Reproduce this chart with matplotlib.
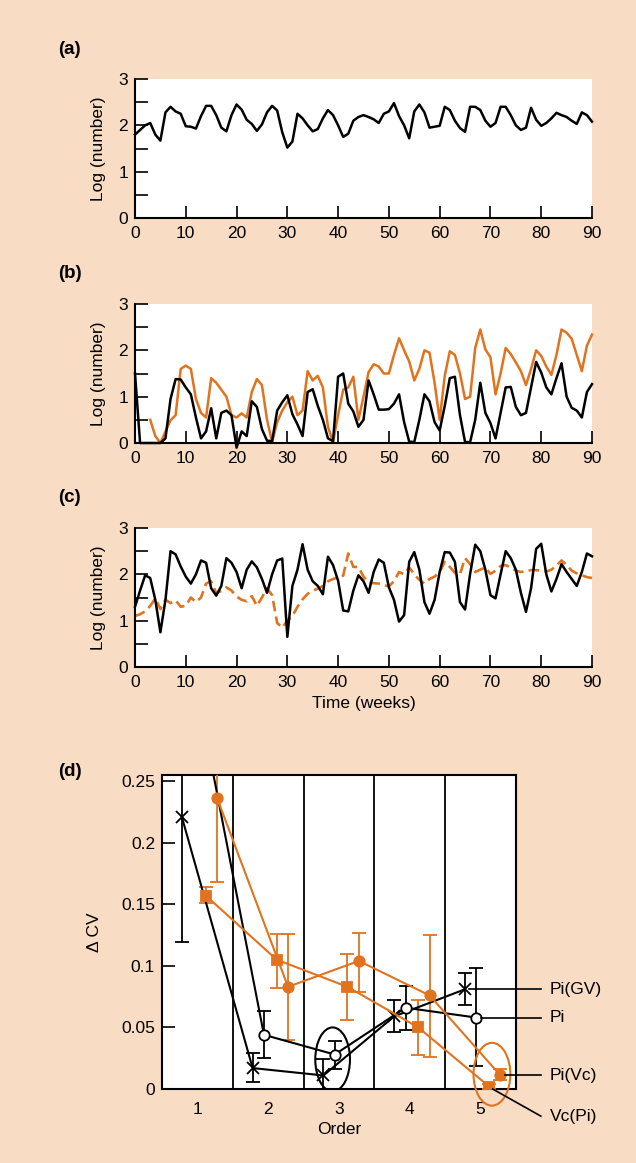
import numpy as np
import matplotlib
matplotlib.use("Agg")
import matplotlib.pyplot as plt
from matplotlib.patches import Ellipse

plt.rcParams['font.family'] = ['Liberation Sans', 'DejaVu Sans']

BG = '#F8DCC4'
OR = '#E2731E'

weeks = list(range(0, 91))

# (a) single host series
a_black = [1.80, 1.90, 2.00, 2.05, 1.80, 1.67, 2.28, 2.40, 2.30, 2.25, 1.98,
           1.97, 1.93, 2.20, 2.42, 2.42, 2.22, 1.95, 1.87, 2.22, 2.45,
           2.34, 2.12, 2.03, 1.88, 2.02, 2.28, 2.42, 2.32, 1.85, 1.52,
           1.65, 2.25, 2.15, 2.00, 1.87, 1.92, 2.15, 2.33, 2.22, 2.00,
           1.75, 1.82, 2.10, 2.18, 2.22, 2.18, 2.13, 2.05, 2.25, 2.30,
           2.48, 2.20, 2.00, 1.72, 2.30, 2.45, 2.28, 1.95, 1.97, 1.99,
           2.40, 2.33, 2.10, 1.94, 1.86, 2.40, 2.40, 2.33, 2.10, 1.97,
           2.05, 2.40, 2.40, 2.22, 2.00, 1.90, 1.95, 2.38, 2.12, 1.99,
           2.05, 2.15, 2.27, 2.22, 2.18, 2.10, 2.03, 2.28, 2.22, 2.08]

# (b) host (black) and parasitoid (orange)
b_black = [1.50, 0.00, 0.00, 0.00, 0.00, 0.00, 0.10, 0.95, 1.38, 1.37, 1.20,
           1.05, 0.55, 0.10, 0.25, 0.75, 0.10, 0.65, 0.70, 0.60, -0.10,
           0.25, 0.15, 0.90, 0.78, 0.30, 0.05, 0.04, 0.70, 0.88, 1.03,
           0.62, 0.40, 0.15, 1.10, 1.16, 0.80, 0.50, 0.10, 0.04, 1.43,
           1.50, 0.85, 0.68, 0.35, 0.50, 1.35, 1.05, 0.72, 0.72, 0.73,
           0.85, 1.05, 0.45, 0.03, 0.02, 0.50, 1.05, 0.90, 0.45, 0.27,
           0.80, 1.40, 1.43, 0.60, 0.02, 0.02, 0.50, 1.30, 0.65, 0.43,
           0.10, 0.65, 1.20, 1.21, 0.78, 0.60, 0.65, 1.20, 1.75, 1.52,
           1.20, 1.05, 1.40, 1.72, 1.00, 0.76, 0.70, 0.55, 1.10, 1.27]
b_orange = [np.nan, np.nan, np.nan, 0.50, 0.15, 0.00, 0.25, 0.49, 0.60, 1.60, 1.67,
            1.60, 0.95, 0.65, 0.55, 1.40, 1.30, 1.15, 1.00, 0.60, 0.55,
            0.64, 0.55, 1.10, 1.38, 1.25, 0.50, 0.02, 0.45, 0.70, 0.88,
            1.00, 0.60, 0.70, 1.55, 1.35, 1.45, 1.20, 0.35, 0.02, 0.60,
            1.15, 1.20, 1.43, 0.50, 1.00, 1.53, 1.70, 1.65, 1.50, 1.50,
            1.90, 2.26, 2.00, 1.76, 1.35, 1.60, 2.00, 1.95, 1.30, 0.50,
            1.45, 1.98, 1.90, 1.50, 0.95, 1.00, 2.05, 2.45, 2.02, 1.85,
            1.05, 1.50, 2.05, 1.92, 1.74, 1.55, 1.25, 1.60, 2.00, 1.88,
            1.65, 1.47, 1.90, 2.45, 2.38, 2.25, 1.90, 1.55, 2.10, 2.34]

# (c) host (black) and parasitoid (orange dashed)
c_black = [1.30, 1.65, 1.98, 1.92, 1.45, 0.75, 1.45, 2.50, 2.43, 2.17, 1.95,
           1.80, 2.00, 2.30, 2.25, 1.70, 1.54, 1.75, 2.35, 2.25, 2.05,
           1.70, 2.10, 2.28, 2.15, 1.90, 1.60, 2.00, 2.30, 2.34, 0.65,
           1.75, 2.10, 2.65, 2.10, 1.85, 1.75, 1.57, 2.38, 2.20, 1.86,
           1.22, 1.20, 1.65, 1.98, 1.85, 1.60, 2.05, 2.32, 2.25, 1.72,
           1.45, 0.98, 1.12, 2.27, 2.48, 2.10, 1.40, 1.15, 1.45, 2.05,
           2.48, 2.47, 2.27, 1.40, 1.24, 2.01, 2.64, 2.50, 2.10, 1.55,
           1.48, 2.00, 2.50, 2.35, 2.10, 1.60, 1.19, 1.70, 2.55, 2.66,
           2.00, 1.63, 1.90, 2.22, 2.05, 1.90, 1.75, 2.05, 2.45, 2.39]
c_orange = [1.10, 1.14, 1.20, 1.32, 1.48, 1.25, 1.45, 1.38, 1.44, 1.30, 1.32,
            1.50, 1.40, 1.50, 1.80, 1.85, 1.60, 1.64, 1.72, 1.65, 1.52,
            1.45, 1.42, 1.53, 1.32, 1.50, 1.70, 1.55, 0.95, 0.85, 1.00,
            1.10, 1.30, 1.46, 1.58, 1.65, 1.69, 1.75, 1.85, 1.90, 1.93,
            1.97, 2.45, 2.16, 2.16, 1.95, 1.82, 1.81, 1.80, 1.77, 1.74,
            1.85, 2.05, 2.00, 2.15, 2.00, 1.88, 1.80, 1.90, 1.95, 2.05,
            2.27, 2.16, 2.03, 2.00, 2.35, 2.22, 2.05, 2.10, 2.15, 2.01,
            2.08, 2.18, 2.20, 2.14, 2.08, 2.05, 2.07, 2.09, 2.09, 2.08,
            2.06, 2.10, 2.19, 2.30, 2.20, 2.08, 2.02, 1.98, 1.94, 1.92]

# (d) Delta CV by order
orders = [1, 2, 3, 4, 5]
order_labels = ['1', '2', '3', '4', '5']
series_names = ['Pi(GV)', 'Pi', 'Vc(Pi)', 'Pi(Vc)']
offsets = [-0.22, -0.06, 0.12, 0.28]
piGV = [0.221, 0.017, 0.011, 0.059, 0.081]
piGV_lo = [0.119, 0.006, 0.000, 0.046, 0.068]
piGV_hi = [0.300, 0.029, 0.024, 0.072, 0.094]
pi = [0.340, 0.044, 0.028, 0.066, 0.058]
pi_lo = [0.300, 0.025, 0.016, 0.048, 0.019]
pi_hi = [0.380, 0.063, 0.039, 0.084, 0.098]
vcpi = [0.157, 0.105, 0.083, 0.050, 0.002]
vcpi_lo = [0.151, 0.082, 0.056, 0.028, 0.000]
vcpi_hi = [0.164, 0.126, 0.110, 0.072, 0.004]
pivc = [0.236, 0.083, 0.104, 0.076, 0.011]
pivc_lo = [0.168, 0.040, 0.079, 0.026, 0.007]
pivc_hi = [0.300, 0.126, 0.127, 0.125, 0.016]

fig = plt.figure(figsize=(6.36, 11.63), dpi=100, facecolor=BG)

FS = 12.5


def ts_axes(bottom):
    ax = fig.add_axes([135 / 636, bottom, 457 / 636, 139 / 1163])
    ax.set_facecolor('white')
    ax.set_xlim(0, 90)
    ax.set_ylim(0, 3)
    for s in ['top', 'right']:
        ax.spines[s].set_visible(False)
    for s in ['left', 'bottom']:
        ax.spines[s].set_linewidth(1.5)
    ax.set_xticks(range(0, 91, 10))
    ax.set_yticks([0, 1, 2, 3])
    ax.set_yticks([0.5, 1.5, 2.5], minor=True)
    ax.tick_params(direction='in', length=9, width=1.2, labelsize=FS)
    ax.tick_params(axis='x', pad=6)
    ax.tick_params(axis='y', pad=5)
    ax.tick_params(which='minor', direction='in', length=9, width=1.2)
    ax.set_ylabel('Log (number)', fontsize=FS, labelpad=9)
    return ax


w = np.array(weeks)
axa = ts_axes(1 - 218 / 1163)
axa.plot(w, a_black, color='black', lw=1.8, clip_on=False,
         solid_joinstyle='round')

axb = ts_axes(1 - 443 / 1163)
axb.plot(w, b_orange, color=OR, lw=1.8, clip_on=False)
axb.plot(w, b_black, color='black', lw=1.8, clip_on=False)

axc = ts_axes(1 - 667 / 1163)
axc.plot(w, c_orange, color=OR, lw=1.9, dashes=(4, 2), clip_on=False)
axc.plot(w, c_black, color='black', lw=1.8, clip_on=False)
axc.set_xlabel('Time (weeks)', fontsize=FS, labelpad=4)

for lab, y in [('(a)', 49), ('(b)', 273), ('(c)', 497), ('(d)', 771)]:
    fig.text(58 / 636, 1 - y / 1163, lab, fontsize=13.5, fontweight='bold',
             ha='left', va='center')

# panel d
axd = fig.add_axes([162 / 636, 1 - 1089 / 1163, 354 / 636, 314 / 1163])
axd.set_facecolor('white')
axd.set_xlim(0.5, 5.5)
axd.set_ylim(0, 0.255)
for s in axd.spines.values():
    s.set_linewidth(1.5)
axd.set_yticks([0, 0.05, 0.1, 0.15, 0.2, 0.25])
axd.set_yticklabels(['0', '0.05', '0.1', '0.15', '0.2', '0.25'])
axd.set_xticks(orders)
axd.set_xticklabels(order_labels)
axd.tick_params(axis='y', direction='in', length=9, width=1.2, labelsize=FS, pad=5)
axd.tick_params(axis='x', length=0, labelsize=FS, pad=9)
axd.set_xlabel('Order', fontsize=FS, labelpad=4)
axd.set_ylabel('Δ CV', fontsize=FS, labelpad=14)
for xb in [1.5, 2.5, 3.5, 4.5]:
    axd.axvline(xb, color='black', lw=1.3)

o = np.array(orders, dtype=float)
specs = [
    (piGV, piGV_lo, piGV_hi, offsets[0], 'black', 'x', 'black', 8),
    (pi, pi_lo, pi_hi, offsets[1], 'black', 'o', 'white', 7.5),
    (vcpi, vcpi_lo, vcpi_hi, offsets[2], OR, 's', OR, 7),
    (pivc, pivc_lo, pivc_hi, offsets[3], OR, 'o', OR, 7.5),
]
ends = {}
for name, (v, lo, hi, off, col, mk, mfc, ms) in zip(series_names, specs):
    v = np.array(v)
    xs = o + off
    yerr = [v - np.array(lo), np.array(hi) - v]
    axd.errorbar(xs, v, yerr=yerr, color=col, lw=1.5, marker=mk, ms=ms,
                 mfc=mfc, mec=col, mew=1.3, capsize=5, capthick=1.3,
                 elinewidth=1.3, zorder=3)
    ends[name] = (xs[-1], v[-1])

axd.add_patch(Ellipse((2.91, 0.024), 0.49, 0.052, fill=False, ec='black',
                      lw=1.5, zorder=4))
axd.add_patch(Ellipse((5.16, 0.012), 0.52, 0.051, fill=False, ec=OR,
                      lw=1.5, zorder=4, clip_on=False))

# leader lines and labels
lab_x = 5.98
line_end = 5.85
for name, ytxt in [('Pi(GV)', 0.081), ('Pi', 0.058), ('Pi(Vc)', 0.011)]:
    x0, y0 = ends[name]
    axd.plot([x0 + 0.06, line_end], [y0, ytxt], color='black', lw=1.2,
             clip_on=False, zorder=5)
    axd.text(lab_x, ytxt, name, fontsize=FS, va='center', ha='left')
x0, y0 = ends['Vc(Pi)']
axd.plot([x0 + 0.05, line_end], [y0 - 0.002, -0.022], color='black', lw=1.2,
         clip_on=False, zorder=5)
axd.text(lab_x, -0.022, 'Vc(Pi)', fontsize=FS, va='center', ha='left')

fig.savefig('out.png', dpi=100, facecolor=BG)
